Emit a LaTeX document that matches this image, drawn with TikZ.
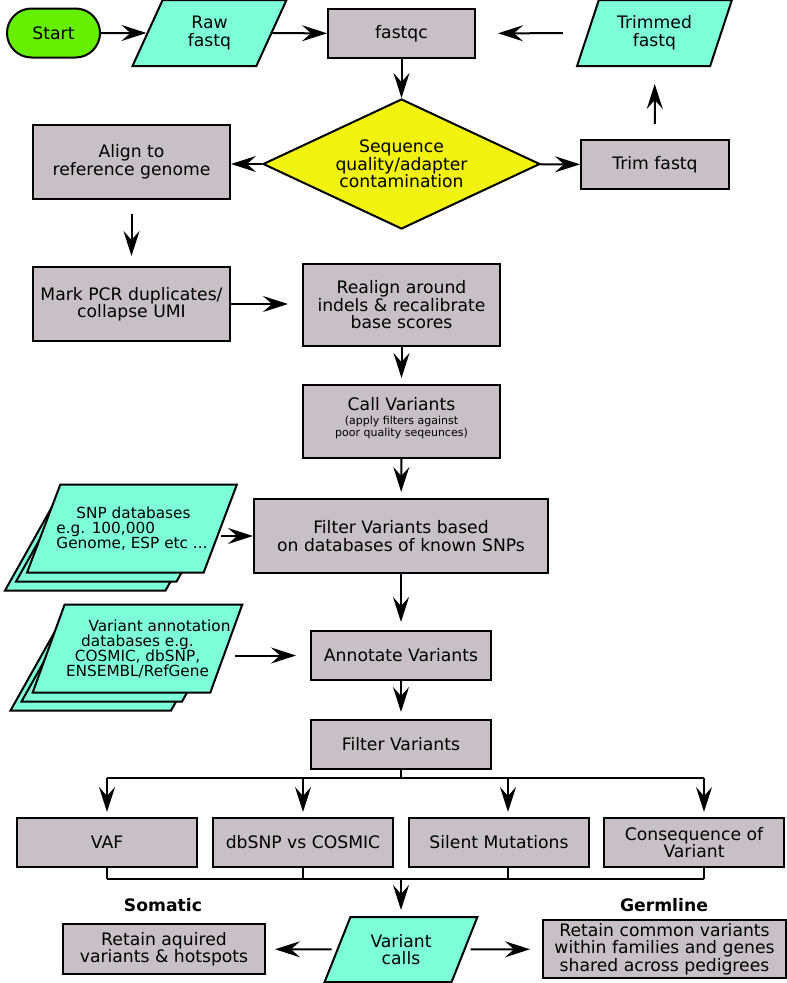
\documentclass[tikz,border=0pt]{standalone}
\usepackage{fontspec}
\setmainfont{DejaVu Sans}
\usetikzlibrary{positioning,shapes.geometric,arrows.meta,calc}
\definecolor{txt}{HTML}{000000}
\definecolor{lnB}{HTML}{000000}
\definecolor{gnF}{HTML}{66F000}
\definecolor{cyF}{HTML}{7DFFD8}
\definecolor{gyF}{HTML}{C8BFC7}
\definecolor{ylF}{HTML}{F2F20F}

\begin{document}
\begin{tikzpicture}[x=1pt,y=-1pt,
  font=\fontsize{17.2}{17.5}\selectfont,text=txt,
  >={Stealth[length=25pt,width=16pt,inset=9pt]},
  bx/.style={draw=lnB,line width=2pt,align=center,inner sep=2pt},
  proc/.style={bx,fill=gyF,rectangle},
  io/.style={bx,fill=cyF,trapezium,trapezium left angle=68,trapezium right angle=112,trapezium stretches=true},
  db/.style={io,trapezium left angle=66,trapezium right angle=114,minimum width=210pt,minimum height=88pt,
             font=\fontsize{15.3}{15}\selectfont},
  dbtxt/.style={db,inner xsep=-30pt},
  flow/.style={->,line width=2pt,lnB},
  bus/.style={line width=2pt,lnB},
  ]
\useasboundingbox (0,0) rectangle (787,983);

% ================= TOP: read QC loop =================
\node[bx,fill=gnF,rounded corners=24.5pt,minimum width=93pt,minimum height=49pt] (start) at (53.5,33) {Start};
\node[io,minimum width=155pt,minimum height=66pt] (raw) at (209.5,33) {Raw\\fastq};
\node[proc,minimum width=147pt,minimum height=49pt] (fqc) at (401.5,33.5) {fastqc};
\node[io,minimum width=155pt,minimum height=66pt] (trimd) at (654.5,33) {Trimmed\\fastq};
\node[bx,fill=ylF,diamond,aspect=2.13,minimum width=277pt,minimum height=130pt,inner sep=0pt] (qc) at (401.5,164) {Sequence\\quality/adapter\\contamination};
\node[proc,minimum width=148pt,minimum height=49pt] (trim) at (655,164.5) {Trim fastq};

\draw[flow] (start) -- (raw);
\draw[flow] (raw) -- (fqc);
\draw[flow,shorten <=24pt,shorten >=22pt] (trimd) -- (fqc);
\draw[flow] (fqc) -- (qc);
\draw[flow] (qc) -- (trim);
\draw[flow,shorten <=15pt,shorten >=17pt] (trim) -- (trimd);

% ================= LEFT: alignment =================
\node[proc,minimum width=197pt,minimum height=74pt] (aln) at (131.5,162) {Align to\\reference genome};
\node[proc,minimum width=197pt,minimum height=74pt,below=66pt of aln] (dup) {Mark PCR duplicates/\\collapse UMI};
\node[proc,minimum width=197pt,minimum height=82pt] (real) at (401.5,305) {Realign around\\indels \& recalibrate\\base scores};
\node[proc,minimum width=197pt,minimum height=73pt,below=37pt of real] (call)
  {Call Variants\\[-3pt]\fontsize{11}{11}\selectfont\begin{tabular}[t]{@{}c@{}}(apply filters against\\poor quality seqeunces)\end{tabular}\\[4pt]};

\draw[flow] (qc.west) -- (qc.west -| aln.east);
\draw[flow,shorten <=14pt,shorten >=10pt] (aln) -- (dup);
\draw[flow,shorten >=14pt] (dup.east) -- (dup.east -| real.west);
\draw[flow,shorten >=6pt] (real) -- (call);

% ================= MIDDLE: databases, filter, annotate =================
\node[proc,minimum width=294pt,minimum height=74pt] (fdb) at (401,536) {Filter Variants based\\on databases of known SNPs};
\node[proc,minimum width=180pt,minimum height=49pt] (ann) at (401,655.5) {Annotate Variants};
\node[proc,minimum width=180pt,minimum height=49pt,below=38pt of ann] (flt) {Filter Variants};

\coordinate (snpC) at (132,528.5);
\foreach \d in {2,1}{\node[db] at ([shift={(-11*\d,9*\d)}]snpC) {};}
\node[dbtxt,align=left] (snp) at (snpC) {\hspace*{20pt}SNP databases\\e.g. 100,000\\Genome, ESP etc ...};

\coordinate (vaC) at (137.5,648.5);
\foreach \d in {2,1}{\node[db] at ([shift={(-11*\d,9*\d)}]vaC) {};}
\node[dbtxt] (vadb) at (vaC) {\hspace*{44pt}Variant annotation\\databases e.g.\\COSMIC, dbSNP,\\ENSEMBL/RefGene};

\draw[flow,shorten >=6pt] (call) -- (fdb);
\draw[flow] (fdb.west -| snp.east) -- (fdb.west);
\draw[flow,shorten >=8pt] (fdb) -- (ann);
\draw[flow,shorten <=8pt,shorten >=14pt] (vadb.east |- ann.west) -- (ann.west);
\draw[flow,shorten >=7pt] (ann) -- (flt);

% ================= BOTTOM: filter classes =================
\node[proc,minimum width=180pt,minimum height=49pt] (vaf) at (107,842.5) {VAF};
\node[proc,minimum width=180pt,minimum height=49pt,right=14pt of vaf] (dbs) {dbSNP vs COSMIC};
\node[proc,minimum width=180pt,minimum height=49pt,right=14pt of dbs] (sil) {Silent Mutations};
\node[proc,minimum width=180pt,minimum height=49pt,right=13pt of sil] (csq) {Consequence of\\Variant};

\coordinate (busT) at ([yshift=-8pt]flt.south);
\coordinate (busB) at ([yshift=-11pt]vaf.south);
\draw[bus] (flt.south) -- (busT);
\draw[bus] (vaf.north |- busT) -- ([xshift=10pt]csq.north |- busT);
\draw[bus] (vaf.south |- busB) -- ([xshift=10pt]csq.south |- busB);
\foreach \n/\dx in {vaf/0,dbs/0,sil/9,csq/10}{
  \draw[flow,shorten >=5pt] ([xshift=\dx pt]\n.north |- busT) -- ([xshift=\dx pt]\n.north);
  \draw[bus] ([xshift=\dx pt]\n.south) -- ([xshift=\dx pt]\n.south |- busB);
}

% ================= Variant calls: somatic / germline =================
\node[io,trapezium left angle=64.5,trapezium right angle=115.5,minimum width=154pt,minimum height=65pt] (vc) at (401,949.5) {Variant\\calls};
\node[proc,minimum width=202pt,minimum height=50pt] (som) at (164,949) {Retain aquired\\variants \& hotspots};
\node[proc,minimum width=243pt,minimum height=58pt] (grm) at (664.5,949) {Retain common variants\\within families and genes\\shared across pedigrees};
\node[font=\fontsize{17.2}{17.5}\selectfont\bfseries] (somL) at (163,905) {Somatic};
\node[font=\fontsize{17.2}{17.5}\selectfont\bfseries] (grmL) at (664,905) {Germline};

\draw[flow,shorten >=6pt] (vc.north |- busB) -- (vc.north);
\draw[flow,shorten <=5pt,shorten >=9pt] (vc) -- (som);
\draw[flow,shorten <=5pt,shorten >=12pt] (vc) -- (grm);

\end{tikzpicture}
\end{document}
